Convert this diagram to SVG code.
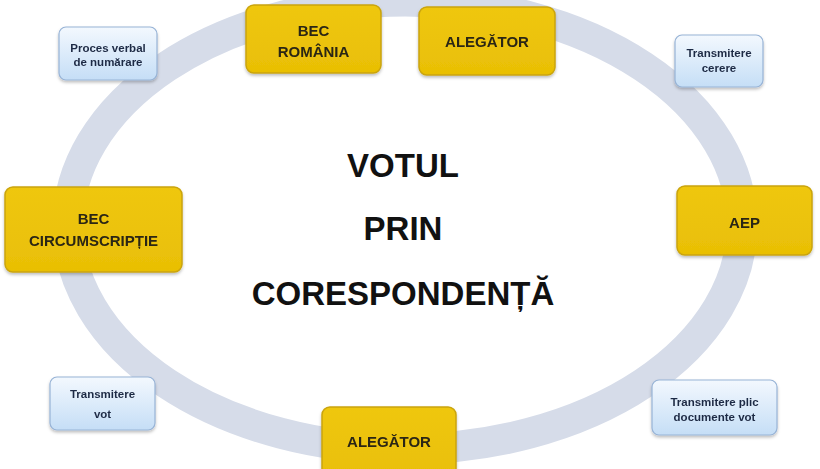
<svg xmlns="http://www.w3.org/2000/svg" width="820" height="469" viewBox="0 0 820 469">
<defs>
<linearGradient id="blueGrad" x1="0" y1="0" x2="0" y2="1">
<stop offset="0" stop-color="#f3f8fe"/>
<stop offset="1" stop-color="#c5def6"/>
</linearGradient>
<linearGradient id="goldGrad" x1="0" y1="0" x2="0" y2="1">
<stop offset="0" stop-color="#efc70f"/>
<stop offset="1" stop-color="#e9bf05"/>
</linearGradient>
<filter id="shadow" x="-10%" y="-10%" width="130%" height="140%">
<feDropShadow dx="0" dy="2" stdDeviation="1.5" flood-color="#000" flood-opacity="0.25"/>
</filter>
</defs>
<style>
.gold{fill:url(#goldGrad);stroke:#caa40a;stroke-width:1.5}
.blue{fill:url(#blueGrad);stroke:#97b3d6;stroke-width:1.2}
.gt{font-family:"Liberation Sans",Arial,sans-serif;font-weight:bold;font-size:15px;fill:#2b2614;text-anchor:middle}
.bt{font-family:"Liberation Sans",Arial,sans-serif;font-weight:bold;font-size:11.5px;fill:#1f2b45;text-anchor:middle}
.title{font-family:"Liberation Sans",Arial,sans-serif;font-weight:bold;font-size:33px;fill:#111;text-anchor:middle}
</style>
<rect width="820" height="469" fill="#ffffff"/>
<g id="connectors">
<ellipse cx="405" cy="225" rx="337" ry="224" fill="none" stroke="#d6dce9" stroke-width="31"/>
</g>
<g id="title">
<text class="title" x="403" y="177">VOTUL</text>
<text class="title" x="403" y="240">PRIN</text>
<text class="title" x="403" y="305">CORESPONDENȚĂ</text>
</g>
<g id="bec-romania" filter="url(#shadow)">
<rect class="gold" x="246" y="5" width="135" height="68" rx="8"/>
<text class="gt" x="313.5" y="36">BEC</text>
<text class="gt" x="313.5" y="57">ROMÂNIA</text>
</g>
<g id="alegator-top" filter="url(#shadow)">
<rect class="gold" x="419" y="7" width="136" height="68" rx="8"/>
<text class="gt" x="487" y="47">ALEGĂTOR</text>
</g>
<g id="aep" filter="url(#shadow)">
<rect class="gold" x="677" y="186" width="135" height="69" rx="8"/>
<text class="gt" x="744.5" y="228">AEP</text>
</g>
<g id="bec-circumscriptie" filter="url(#shadow)">
<rect class="gold" x="5" y="187" width="177" height="85" rx="8"/>
<text class="gt" x="93.5" y="224">BEC</text>
<text class="gt" x="93.5" y="246">CIRCUMSCRIPȚIE</text>
</g>
<g id="alegator-bottom" filter="url(#shadow)">
<rect class="gold" x="322" y="407" width="134" height="75" rx="8"/>
<text class="gt" x="389" y="447">ALEGĂTOR</text>
</g>
<g id="proces-verbal" filter="url(#shadow)">
<rect class="blue" x="59" y="27" width="98" height="53" rx="7"/>
<text class="bt" x="108" y="52">Proces verbal</text>
<text class="bt" x="108" y="66">de numărare</text>
</g>
<g id="transmitere-cerere" filter="url(#shadow)">
<rect class="blue" x="675" y="35" width="88" height="52" rx="7"/>
<text class="bt" x="719" y="57">Transmitere</text>
<text class="bt" x="719" y="72">cerere</text>
</g>
<g id="transmitere-vot" filter="url(#shadow)">
<rect class="blue" x="50" y="377" width="105" height="53" rx="7"/>
<text class="bt" x="102.5" y="398">Transmitere</text>
<text class="bt" x="102.5" y="418">vot</text>
</g>
<g id="transmitere-plic" filter="url(#shadow)">
<rect class="blue" x="652" y="380" width="125" height="55" rx="7"/>
<text class="bt" x="714.5" y="406">Transmitere plic</text>
<text class="bt" x="714.5" y="421">documente vot</text>
</g>
</svg>
